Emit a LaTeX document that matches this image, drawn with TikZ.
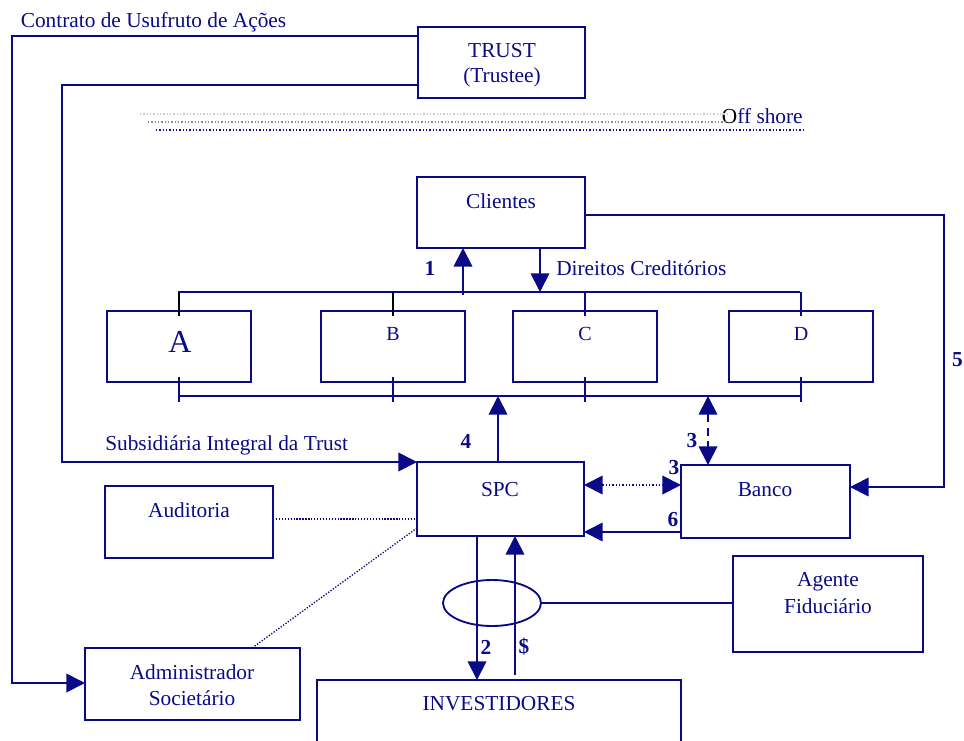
\documentclass[tikz,border=0pt]{standalone}
\usepackage{fontspec}
\setmainfont{Liberation Serif}
\usetikzlibrary{arrows.meta,shapes.geometric}
\definecolor{nv}{RGB}{10,10,135}
\begin{document}
\begin{tikzpicture}[x=0.75pt,y=-0.75pt,
  box/.style={draw=nv, line width=1.5pt, rectangle, inner sep=0pt, outer sep=0pt},
  sz/.style 2 args={minimum width=#1*0.75pt, minimum height=#2*0.75pt},
  ln/.style={draw=nv, line width=1.4pt},
  arr/.style={ln, -{Triangle[length=14pt,width=14pt]}},
  darr/.style={ln, {Triangle[length=14pt,width=14pt]}-{Triangle[length=14pt,width=14pt]}},
  dotl/.style={draw=nv, line width=1pt, dash pattern=on 1pt off 1.2pt},
  txt/.style={text=nv, font=\fontsize{16}{19}\selectfont, inner sep=0pt},
  num/.style={text=nv, font=\fontsize{16}{19}\selectfont\bfseries, inner sep=0pt}]
\useasboundingbox (0,0) rectangle (964,740);

% boxes
\node[box, sz={167}{71}] (trust) at (501.5,62.5) {};
\node[box, sz={168}{71}] (clientes) at (501,212.5) {};
\node[box, sz={144}{71}] (A) at (179,346.5) {};
\node[box, sz={144}{71}] (B) at (393,346.5) {};
\node[box, sz={144}{71}] (C) at (585,346.5) {};
\node[box, sz={144}{71}] (D) at (801,346.5) {};
\node[box, sz={167}{74}] (spc) at (500.5,499) {};
\node[box, sz={169}{73}] (banco) at (765.5,501.5) {};
\node[box, sz={168}{72}] (auditoria) at (189,522) {};
\node[box, sz={215}{72}] (admin) at (192.5,684) {};
\node[box, sz={190}{96}] (agente) at (828,604) {};
\node[box, sz={364}{80}] (invest) at (499,720) {};
\node[ellipse, draw=nv, line width=1.4pt, inner sep=0pt, outer sep=0pt, sz={98}{46}] (ell) at (492,603) {};

% texts
\node[txt] (tcontrato) at (153.5,22) {Contrato de Usufruto de Ações};
\node[txt] (ttrust) at (502,51) {TRUST};
\node[txt] (ttrustee) at (502,77) {(Trustee)};
\node[txt, anchor=east] (toff) at (803,116) {{\color{black}O}ff shore};
\node[txt] (tclientes) at (501,201) {Clientes};
\node[txt, anchor=west] (tdireitos) at (556,268) {Direitos Creditórios};
\node[num] (n1) at (430,268) {1};
\node[txt, font=\fontsize{24}{28}\selectfont] (tA) at (180,342) {A};
\node[txt, font=\fontsize{15}{18}\selectfont] (tB) at (393,334) {B};
\node[txt, font=\fontsize{15}{18}\selectfont] (tC) at (585,334) {C};
\node[txt, font=\fontsize{15}{18}\selectfont] (tD) at (801,334) {D};
\node[txt, anchor=west] (tsub) at (105,445) {Subsidiária Integral da Trust};
\node[num] (n4) at (466,441) {4};
\node[num] (n3a) at (692,441) {3};
\node[num] (n3b) at (674,468) {3};
\node[num] (n6) at (673,520) {6};
\node[txt] (tspc) at (500,490) {SPC};
\node[txt] (tbanco) at (765,490) {Banco};
\node[txt] (taud) at (189,510) {Auditoria};
\node[txt] (tadm1) at (192,672) {Administrador};
\node[txt] (tadm2) at (192,698) {Societário};
\node[txt] (tag1) at (828,582) {Agente};
\node[txt] (tag2) at (828,606) {Fiduciário};
\node[txt] (tinv) at (499,704) {INVESTIDORES};
\node[num] (n2) at (486,647) {2};
\node[num] (nd) at (524,647) {\$};
\node[num, anchor=east] (n5) at (963,360) {5};

% coordinates
\coordinate (c1) at (12,36);
\coordinate (c2) at (12,683);
\coordinate (c3) at (62,85);
\coordinate (c4) at (62,462);
\coordinate (c5) at (944,215);
\coordinate (c6) at (944,487);
\coordinate (tb1) at (178,292);
\coordinate (tb2) at (800,292);
\coordinate (bb1) at (178,396);
\coordinate (bb2) at (800,396);
\coordinate (a1) at (463,295);
\coordinate (a2) at (540,292);
\coordinate (a4) at (498,396);
\coordinate (a3) at (708,396);
\coordinate (a5) at (0,485);
\coordinate (a6) at (0,532);
\coordinate (a7) at (0,519);
\coordinate (a8) at (477,0);
\coordinate (a9) at (515,675);
\coordinate (d1) at (417,528);
\coordinate (d2) at (252,648);
\coordinate (o1) at (140,114);
\coordinate (o1e) at (728,114);
\coordinate (o2) at (148,122);
\coordinate (o2e) at (728,122);
\coordinate (o3) at (156,130);
\coordinate (o3e) at (803,130);

% connectors
\draw[arr] (trust.west |- c1) -- (c1) -- (c2) -- (admin.west |- c2);
\draw[arr] (trust.west |- c3) -- (c3) -- (c4) -- (spc.north west);
\draw[arr] (clientes.east |- c5) -- (c5) -- (c6) -- (banco.east |- c6);

\draw[line width=0.8pt, black!20, dash pattern=on 1pt off 1.5pt] (o1) -- (o1e);
\draw[line width=0.8pt, black!45, dash pattern=on 1pt off 1.5pt] (o2) -- (o2e);
\draw[line width=1pt, nv, dash pattern=on 1pt off 1.5pt] (o3) -- (o3e);

\draw[ln] (tb1) -- (tb2);
\draw[line width=1.4pt, black] (A.north |- tb1) -- ++(0,24);
\draw[line width=1.4pt, black] (B.north |- tb1) -- ++(0,24);
\draw[ln] (C.north |- tb1) -- ++(0,24);
\draw[ln] (D.north |- tb1) -- ++(0,24);
\draw[arr] (a1) -- (clientes.south -| a1);
\draw[arr] (clientes.south -| a2) -- (a2);

\draw[ln] (bb1) -- (bb2);
\draw[ln] (A.south) ++(0,-5) -- ++(0,25);
\draw[ln] (B.south) ++(0,-5) -- ++(0,25);
\draw[ln] (C.south) ++(0,-5) -- ++(0,25);
\draw[ln] (D.south) ++(0,-5) -- ++(0,25);

\draw[arr] (spc.north -| a4) -- (a4);
\draw[darr, dash pattern=on 6pt off 4pt] (a3) -- (banco.north -| a3);
\draw[darr, dash pattern=on 1pt off 1.5pt] (spc.east |- a5) -- (banco.west |- a5);
\draw[arr] (banco.west |- a6) -- (spc.east |- a6);
\draw[dotl] (auditoria.east |- a7) -- (spc.west |- a7);
\draw[dotl] (d1) -- (admin.north -| d2);
\draw[arr] (spc.south -| a8) -- (invest.north -| a8);
\draw[arr] (a9) -- (spc.south -| a9);
\draw[ln] (ell.east) -- (agente.west |- ell.east);
\end{tikzpicture}
\end{document}
